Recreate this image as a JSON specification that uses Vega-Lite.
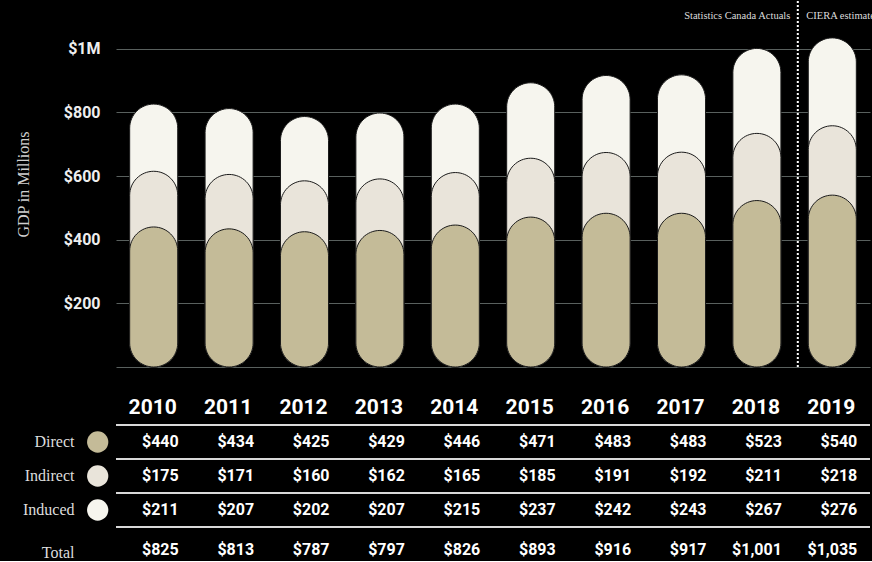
{
  "$schema": "https://vega.github.io/schema/vega-lite/v6.json",
  "background": "#000000",
  "padding": {"left": 15, "top": 0, "right": 0, "bottom": 0},
  "config": {"view": {"stroke": null}},
  "spacing": 23,
  "resolve": {"scale": {"x": "independent", "y": "independent", "color": "independent"}},
  "datasets": {
    "gdp": [
      {"year": "2010", "Direct": 440, "Indirect": 175, "Induced": 211, "Total": 825},
      {"year": "2011", "Direct": 434, "Indirect": 171, "Induced": 207, "Total": 813},
      {"year": "2012", "Direct": 425, "Indirect": 160, "Induced": 202, "Total": 787},
      {"year": "2013", "Direct": 429, "Indirect": 162, "Induced": 207, "Total": 797},
      {"year": "2014", "Direct": 446, "Indirect": 165, "Induced": 215, "Total": 826},
      {"year": "2015", "Direct": 471, "Indirect": 185, "Induced": 237, "Total": 893},
      {"year": "2016", "Direct": 483, "Indirect": 191, "Induced": 242, "Total": 916},
      {"year": "2017", "Direct": 483, "Indirect": 192, "Induced": 243, "Total": 917},
      {"year": "2018", "Direct": 523, "Indirect": 211, "Induced": 267, "Total": 1001},
      {"year": "2019", "Direct": 540, "Indirect": 218, "Induced": 276, "Total": 1035}
    ]
  },
  "vconcat": [
    {
      "width": 754,
      "height": 366,
      "layer": [
        {
          "data": {"name": "gdp"},
          "transform": [
            {"fold": ["Direct", "Indirect", "Induced"], "as": ["series", "value"]},
            {"stack": "value", "groupby": ["year"], "sort": [{"field": "series", "order": "ascending"}], "as": ["s0", "s1"]}
          ],
          "mark": {"type": "bar", "cornerRadius": 24, "stroke": "#1a1a1a", "strokeWidth": 1},
          "encoding": {
            "x": {"field": "year", "type": "nominal", "scale": {"paddingInner": 0.363, "paddingOuter": 0.1815}, "axis": null},
            "y": {
              "field": "s1", "type": "quantitative", "stack": null,
              "scale": {"domain": [0, 1150], "nice": false},
              "axis": {
                "values": [0, 200, 400, 600, 800, 1000],
                "labelExpr": "datum.value == 0 ? '' : datum.value == 1000 ? '$1M' : '$' + datum.value",
                "title": "GDP in Millions",
                "titleFont": "Liberation Serif", "titleFontSize": 16, "titleFontWeight": "normal", "titleColor": "#d0d0d0",
                "titlePadding": 32,
                "labelFont": "Roboto", "labelFontSize": 16, "labelFontWeight": "bold", "labelColor": "#eeeeee",
                "labelPadding": 16, "ticks": false, "domain": false,
                "grid": true, "gridColor": "#59605e", "gridWidth": 1
              }
            },
            "color": {"field": "series", "type": "nominal", "scale": {"domain": ["Direct", "Indirect", "Induced"], "range": ["#c4bb98", "#e9e4da", "#f6f5ee"]}, "legend": null},
            "order": {"field": "s1", "sort": "descending"}
          }
        },
        {
          "data": {"values": [{"label": "divider"}]},
          "mark": {"type": "rule", "color": "#ffffff", "strokeDash": [2, 2], "strokeWidth": 2, "xOffset": -34.5},
          "encoding": {"x": {"datum": "2019", "type": "nominal", "axis": null}}
        },
        {
          "data": {"values": [{"label": "Statistics Canada Actuals"}]},
          "mark": {"type": "text", "align": "right", "baseline": "middle", "font": "Liberation Serif", "fontSize": 10.5, "color": "#dddddd", "xOffset": -42},
          "encoding": {
            "x": {"datum": "2019", "type": "nominal", "axis": null},
            "y": {"datum": 1103, "type": "quantitative"},
            "text": {"field": "label"}
          }
        },
        {
          "data": {"values": [{"label": "CIERA estimate"}]},
          "mark": {"type": "text", "align": "left", "baseline": "middle", "font": "Liberation Serif", "fontSize": 10.5, "color": "#dddddd", "xOffset": -26},
          "encoding": {
            "x": {"datum": "2019", "type": "nominal", "axis": null},
            "y": {"datum": 1103, "type": "quantitative"},
            "text": {"field": "label"}
          }
        }
      ]
    },
    {
      "width": 754,
      "height": 170,
      "layer": [
        {
          "data": {"values": [{"row": "Year"}, {"row": "Direct"}, {"row": "Indirect"}, {"row": "Induced"}]},
          "mark": {"type": "rule", "color": "#d8d8d8", "strokeWidth": 2},
          "encoding": {
            "y": {
              "field": "row", "type": "nominal", "bandPosition": 1,
              "scale": {"domain": ["Year", "Direct", "Indirect", "Induced", "Total"], "paddingInner": 0, "paddingOuter": 0},
              "axis": {
                "title": null,
                "labelExpr": "datum.value == 'Year' ? '' : datum.value",
                "labelFont": "Liberation Serif", "labelFontSize": 16, "labelFontWeight": "normal", "labelColor": "#dddddd",
                "labelPadding": 42, "ticks": false, "domain": false, "grid": false,
                "labelOffset": {"condition": {"test": "datum.value === 'Total'", "value": 9}, "value": 0}
              }
            }
          }
        },
        {
          "data": {"name": "gdp"},
          "mark": {"type": "text", "align": "center", "baseline": "middle", "font": "Roboto", "fontSize": 21, "fontWeight": "bold", "color": "#ffffff", "dx": -1},
          "encoding": {
            "x": {"field": "year", "type": "nominal", "scale": {"paddingInner": 0.363, "paddingOuter": 0.1815}, "axis": null},
            "y": {"datum": "Year", "type": "nominal"},
            "text": {"field": "year"}
          }
        },
        {
          "data": {"name": "gdp"},
          "transform": [{"fold": ["Direct", "Indirect", "Induced"], "as": ["row", "value"]}],
          "mark": {"type": "text", "align": "right", "baseline": "middle", "font": "Roboto", "fontSize": 16, "fontWeight": "bold", "color": "#ffffff", "dx": 25},
          "encoding": {
            "x": {"field": "year", "type": "nominal", "axis": null},
            "y": {"field": "row", "type": "nominal"},
            "text": {"field": "value", "type": "quantitative", "format": "$,d"}
          }
        },
        {
          "data": {"name": "gdp"},
          "mark": {"type": "text", "align": "right", "baseline": "middle", "font": "Roboto", "fontSize": 16, "fontWeight": "bold", "color": "#ffffff", "dx": 25, "dy": 6},
          "encoding": {
            "x": {"field": "year", "type": "nominal", "axis": null},
            "y": {"datum": "Total", "type": "nominal"},
            "text": {"field": "Total", "type": "quantitative", "format": "$,d"}
          }
        },
        {
          "data": {"values": [{"row": "Direct"}, {"row": "Indirect"}, {"row": "Induced"}]},
          "mark": {"type": "point", "shape": "circle", "filled": true, "opacity": 1, "size": 452, "xOffset": -56},
          "encoding": {
            "x": {"datum": "2010", "type": "nominal", "axis": null},
            "y": {"field": "row", "type": "nominal"},
            "color": {"field": "row", "type": "nominal", "scale": {"domain": ["Direct", "Indirect", "Induced"], "range": ["#c4bb98", "#e9e4da", "#f6f5ee"]}, "legend": null}
          }
        }
      ]
    }
  ]
}
